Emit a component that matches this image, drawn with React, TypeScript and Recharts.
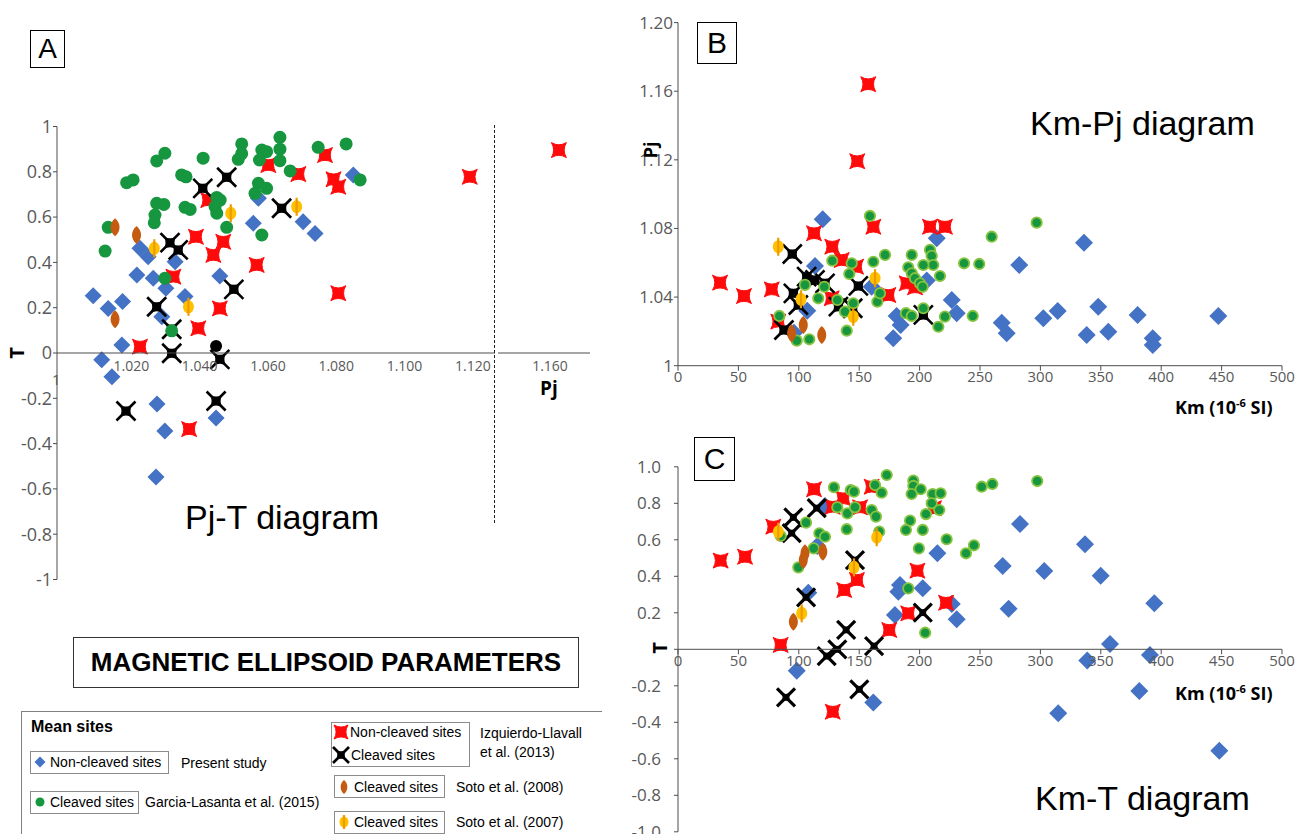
import React from 'react';
import { ScatterChart, Scatter, XAxis, YAxis } from 'recharts';

// ---- Pj-T diagram (A): [Pj, T]
const aBlue = [
  [1.0088, 0.253], [1.0132, 0.197], [1.0174, 0.227], [1.0172, 0.035], [1.0113, -0.03], [1.0143, -0.105],
  [1.0216, 0.344], [1.0225, 0.462], [1.0249, 0.425], [1.0264, 0.33], [1.0301, 0.286], [1.0289, 0.16],
  [1.0328, 0.403], [1.0357, 0.249], [1.0459, 0.34], [1.0557, 0.573], [1.0572, 0.683], [1.0703, 0.58],
  [1.0738, 0.528], [1.085, 0.786], [1.0275, -0.225], [1.0298, -0.344], [1.0272, -0.547], [1.0448, -0.287],
];
const aGreen = [
  [1.0123, 0.45], [1.0132, 0.555], [1.0186, 0.752], [1.0205, 0.764], [1.0274, 0.848], [1.0298, 0.882],
  [1.041, 0.86], [1.0347, 0.786], [1.036, 0.778], [1.0274, 0.661], [1.0295, 0.656], [1.0269, 0.609],
  [1.0267, 0.575], [1.0357, 0.643], [1.0372, 0.634], [1.0298, 0.33], [1.0318, 0.098], [1.045, 0.687],
  [1.046, 0.675], [1.0445, 0.646], [1.045, 0.617], [1.0479, 0.555], [1.0523, 0.923], [1.0523, 0.88],
  [1.0513, 0.855], [1.0582, 0.896], [1.0596, 0.889], [1.0575, 0.852], [1.0635, 0.952], [1.0635, 0.9],
  [1.0635, 0.849], [1.0665, 0.804], [1.0572, 0.749], [1.0596, 0.727], [1.0562, 0.705], [1.0582, 0.521],
  [1.0747, 0.908], [1.0829, 0.923], [1.087, 0.764],
];
const aRed = [
  [1.0225, 0.028], [1.0323, 0.337], [1.0389, 0.513], [1.0425, 0.675], [1.0396, 0.109], [1.044, 0.433],
  [1.0469, 0.491], [1.0459, 0.197], [1.0567, 0.389], [1.0601, 0.83], [1.0689, 0.79], [1.0767, 0.874],
  [1.0792, 0.767], [1.0806, 0.734], [1.0806, 0.264], [1.1191, 0.778], [1.0369, -0.336],
];
const aRedFar = [[1.1626, 0.896]];
const aBlack = [
  [1.0274, 0.204], [1.0318, 0.105], [1.0318, -0.001], [1.0313, 0.487], [1.0337, 0.455], [1.0409, 0.727],
  [1.0479, 0.776], [1.05, 0.281], [1.0459, -0.028], [1.064, 0.639], [1.0184, -0.256], [1.0448, -0.212],
];
const aBlackDot = [[1.0448, 0.031]];
const aBrown = [[1.0152, 0.555], [1.0215, 0.521], [1.0152, 0.149]];
const aYellow = [[1.0267, 0.462], [1.0367, 0.204], [1.0491, 0.617], [1.0684, 0.646]];

// ---- Km-Pj diagram (B): [Km, Pj]
const bBlue = [
  [119.8, 1.0854], [113.4, 1.0581], [107, 1.0321], [96, 1.0192], [160.3, 1.046], [214.2, 1.0743],
  [205.9, 1.0496], [181, 1.029], [184.3, 1.0237], [178.2, 1.016], [226.6, 1.0383], [230.7, 1.0306],
  [268, 1.0251], [272.1, 1.0189], [282.5, 1.0587], [302.4, 1.0276], [314.3, 1.0319], [336.1, 1.0717],
  [338.3, 1.0179], [347.9, 1.0344], [356.2, 1.0198], [380.5, 1.0296], [393, 1.016], [393, 1.0121],
  [447.3, 1.029],
];
const bGreen = [
  [158.9, 1.0873], [171.4, 1.0646], [193.5, 1.0646], [208.6, 1.0675], [210, 1.064], [211.3, 1.0587],
  [203.1, 1.0587], [190.6, 1.0574], [193.5, 1.0539], [196.2, 1.051], [200.3, 1.048], [202.5, 1.046],
  [216.9, 1.0523], [236.8, 1.0597], [127.7, 1.0612], [143.8, 1.0597], [141.8, 1.0535], [161.7, 1.0606],
  [105.1, 1.0471], [121.1, 1.046], [116.1, 1.0393], [131.9, 1.0383], [138.2, 1.0315], [145.1, 1.0364],
  [165, 1.0373], [167.2, 1.0422], [83.9, 1.029], [98.3, 1.0146], [108.7, 1.0154], [139.7, 1.0204],
  [188.7, 1.0306], [193.5, 1.029], [203.1, 1.0335], [221, 1.0286], [215.5, 1.0227], [249.4, 1.0593],
  [244, 1.029], [259.7, 1.0752], [296.9, 1.0834],
];
const bRed = [
  [34.8, 1.0484], [54.6, 1.0406], [77.6, 1.0445], [157.5, 1.1641], [148.4, 1.1192], [112.6, 1.0772],
  [161.7, 1.081], [208.6, 1.081], [221, 1.081], [127.7, 1.0694], [135.5, 1.0616], [147.4, 1.0577],
  [174.1, 1.0412], [189.3, 1.048], [196.2, 1.0457], [127.2, 1.0393], [83, 1.0257],
];
const bBlack = [
  [94.6, 1.0651], [106.5, 1.0519], [113.4, 1.05], [121.7, 1.048], [95.5, 1.0422], [99.6, 1.0354],
  [149.3, 1.0465], [132.8, 1.0344], [144.6, 1.0335], [203.1, 1.0296], [87.7, 1.0208],
];
const bBrown = [[103.7, 1.0237], [119, 1.0179], [94, 1.0189]];
const bYellow = [[83, 1.0694], [101.8, 1.0387], [163.1, 1.051], [145.1, 1.0286]];

// ---- Km-T diagram (C): [Km, T]
const cBlue = [
  [121.7, 0.785], [115.3, 0.566], [107.9, 0.31], [98.3, -0.117], [161.7, -0.292], [183.8, 0.352],
  [182.4, 0.316], [179.6, 0.188], [202.6, 0.334], [214.7, 0.526], [226.6, 0.248], [230.7, 0.164],
  [268.8, 0.456], [273.7, 0.222], [283.1, 0.687], [303.2, 0.429], [314.8, -0.351], [336.9, 0.575],
  [338.8, -0.062], [349.9, 0.403], [357.6, 0.029], [381.9, -0.228], [390.7, -0.031], [394.3, 0.252],
  [448.1, -0.556],
];
const cGreen = [
  [172.8, 0.955], [194.8, 0.924], [194.8, 0.895], [200.9, 0.877], [193.4, 0.851], [210.8, 0.851],
  [217.4, 0.855], [210, 0.8], [216.3, 0.763], [205.3, 0.741], [192.1, 0.705], [188.7, 0.654],
  [202.6, 0.654], [222.4, 0.603], [199.4, 0.553], [238.4, 0.526], [204.6, 0.091], [129.1, 0.888],
  [143, 0.873], [145.7, 0.864], [163.1, 0.9], [168.6, 0.858], [131.9, 0.778], [140.2, 0.745],
  [146.5, 0.778], [160.3, 0.763], [163.9, 0.727], [106, 0.694], [85, 0.621], [117, 0.636],
  [121.7, 0.617], [139.7, 0.658], [166.6, 0.645], [112.3, 0.553], [99.6, 0.449], [190.6, 0.334],
  [251.4, 0.891], [260.2, 0.906], [297.4, 0.922], [245, 0.57],
];
const cRed = [
  [112.6, 0.877], [160.3, 0.891], [136.8, 0.827], [128.1, 0.781], [150.7, 0.778], [211.9, 0.773],
  [78.9, 0.672], [55.5, 0.507], [35.3, 0.486], [198.2, 0.431], [148.1, 0.38], [137.6, 0.325],
  [221.9, 0.255], [190.6, 0.197], [174.9, 0.106], [85, 0.024], [128.1, -0.342],
];
const cBlack = [
  [95.5, 0.723], [94.1, 0.636], [114.8, 0.773], [146.5, 0.489], [106, 0.285], [202.6, 0.201],
  [139.2, 0.106], [162.3, 0.018], [131.9, 0], [123.1, -0.037], [89.4, -0.263], [150.1, -0.219],
];
const cBrown = [[105.1, 0.526], [119.9, 0.535], [103.7, 0.489], [95.5, 0.151]];
const cYellow = [[83, 0.644], [164.5, 0.614], [145.7, 0.449], [102.4, 0.197]];

// ticks
const pjTicksA = [1.02, 1.04, 1.06, 1.08, 1.1, 1.12];
const pjTicksFar = [1.16];
const tTicks = [-1, -0.8, -0.6, -0.4, -0.2, 0, 0.2, 0.4, 0.6, 0.8, 1];
const kmTicks = [0, 50, 100, 150, 200, 250, 300, 350, 400, 450, 500];
const pjTicksB = [1, 1.04, 1.08, 1.12, 1.16, 1.2];

const BLUE = '#4472c4';
const GREEN = '#16963f';
const GREEN_RIM = '#86c440';
const RED = '#ff0a0a';
const BROWN = '#c55a11';
const YELLOW = '#ffc000';
const YLINE = '#ee9a00';
const TICK = '#595959';
const AXIS = '#4d4d4d';
const SANS = '"Liberation Sans", Arial, sans-serif';
const UI = '"Open Sans", "Noto Sans", sans-serif';

const pts = (a: number[][]) => a.map(([x, y]) => ({ x, y }));

const diamondD = (cx: number, cy: number, s: number) =>
  `M${cx},${cy - s}L${cx + s},${cy}L${cx},${cy + s}L${cx - s},${cy}Z`;
// square with concave sides: points on the diagonals
const starD = (cx: number, cy: number, s: number, f = 0.4) => {
  const k = f * s;
  return `M${cx - s},${cy - s}Q${cx},${cy - k} ${cx + s},${cy - s}Q${cx + k},${cy} ${cx + s},${cy + s}` +
    `Q${cx},${cy + k} ${cx - s},${cy + s}Q${cx - k},${cy} ${cx - s},${cy - s}Z`;
};
const lensD = (cx: number, cy: number, h: number, w: number) =>
  `M${cx},${cy - h}C${cx + w},${cy - h * 0.45} ${cx + w},${cy + h * 0.45} ${cx},${cy + h}` +
  `C${cx - w},${cy + h * 0.45} ${cx - w},${cy - h * 0.45} ${cx},${cy - h}Z`;

const Diamond = ({ cx, cy, s = 8.5 }: any) => <path d={diamondD(cx, cy, s)} fill={BLUE} />;
const Dot = ({ cx, cy, r = 6.5, rim = false }: any) =>
  rim ? <circle cx={cx} cy={cy} r={r} fill={GREEN} stroke={GREEN_RIM} strokeWidth={1.8} />
      : <circle cx={cx} cy={cy} r={r} fill={GREEN} />;
const RedStar = ({ cx, cy, s = 7.5 }: any) => (
  <path d={starD(cx, cy, s)} fill={RED} stroke={RED} strokeWidth={1} strokeLinejoin="round" />
);
const BlackCross = ({ cx, cy, s = 6, arm = 9.5, w = 2.6 }: any) => (
  <g>
    <line x1={cx - arm} y1={cy - arm} x2={cx + arm} y2={cy + arm} stroke="#000" strokeWidth={w} />
    <line x1={cx - arm} y1={cy + arm} x2={cx + arm} y2={cy - arm} stroke="#000" strokeWidth={w} />
    <path d={starD(cx, cy, s, 0.5)} fill="#000" />
  </g>
);
const BlackDot = ({ cx, cy }: any) => <circle cx={cx} cy={cy} r={6} fill="#000" />;
const Brown = ({ cx, cy, h = 9, w = 6 }: any) => <path d={lensD(cx, cy, h, w)} fill={BROWN} />;
const Yellow = ({ cx, cy, r = 5.5, l = 9 }: any) => (
  <g>
    <ellipse cx={cx} cy={cy} rx={r} ry={r + 1} fill={YELLOW} />
    <line x1={cx} y1={cy - l} x2={cx} y2={cy + l} stroke={YLINE} strokeWidth={2.2} />
  </g>
);

const Abs = ({ x, y, w, h, children, style }: any) => (
  <div style={{ position: 'absolute', left: x, top: y, width: w, height: h, ...style }}>{children}</div>
);

const Txt = ({ x, y, size, bold, family = SANS, color = '#000', children, rotate, bg }: any) => (
  <div
    style={{
      position: 'absolute', left: x, top: y - size * 0.6, fontSize: size, lineHeight: `${size * 1.2}px`,
      fontWeight: bold ? 700 : 400, fontFamily: family, color, whiteSpace: 'nowrap',
      background: bg, padding: bg ? '0 2px' : undefined,
      transform: rotate ? 'translate(-50%, 0) rotate(-90deg)' : undefined,
    }}
  >
    {children}
  </div>
);

const Box = ({ x, y, w, h, children, size = 30, bw = 1.5, color = '#000' }: any) => (
  <div
    style={{
      position: 'absolute', left: x, top: y, width: w, height: h, border: `${bw}px solid ${color}`,
      boxSizing: 'border-box', display: 'flex', alignItems: 'center', justifyContent: 'center',
      fontFamily: SANS, fontSize: size,
    }}
  >
    {children}
  </div>
);

const series = (blue: any, green: any, red: any, black: any, brown: any, yellow: any, rim: boolean, big = false) => [
  <Scatter key="bl" data={pts(blue)} isAnimationActive={false} shape={(p: any) => <Diamond cx={p.cx} cy={p.cy} s={rim ? 9 : 8.5} />} />,
  <Scatter key="rd" data={pts(red)} isAnimationActive={false} shape={(p: any) => <RedStar cx={p.cx} cy={p.cy} />} />,
  <Scatter key="bk" data={pts(black)} isAnimationActive={false}
    shape={(p: any) => big
      ? <BlackCross cx={p.cx} cy={p.cy} s={4.5} arm={9} w={3.2} />
      : <BlackCross cx={p.cx} cy={p.cy} />} />,
  <Scatter key="gr" data={pts(green)} isAnimationActive={false}
    shape={(p: any) => <Dot cx={p.cx} cy={p.cy} r={rim ? 5.2 : 6.5} rim={rim} />} />,
  <Scatter key="br" data={pts(brown)} isAnimationActive={false} shape={(p: any) => <Brown cx={p.cx} cy={p.cy} />} />,
  <Scatter key="ye" data={pts(yellow)} isAnimationActive={false} shape={(p: any) => <Yellow cx={p.cx} cy={p.cy} />} />,
];

const fmtT = (v: number) => String(Math.round(v * 10) / 10);
const fmtT1 = (v: number) => (v === 0 ? '0' : v.toFixed(1));
const fmtPj = (v: number) => (v === 1 ? '1' : v.toFixed(2));

const A_DOM: [number, number] = [0.9982, 1.1265];
const FAR_DOM: [number, number] = [1.1448, 1.1717];

export default function App() {
  return (
    <div style={{ position: 'absolute', left: 0, top: 0, width: 1299, height: 834, background: '#fff', overflow: 'hidden' }}>
      {/* Panel A main */}
      <Abs x={0} y={0}>
        <ScatterChart width={495} height={590} margin={{ top: 126.5, right: 0, bottom: 10.5, left: 0 }}>
          <XAxis type="number" dataKey="x" domain={A_DOM} allowDataOverflow hide />
          <YAxis type="number" dataKey="y" domain={[-1, 1]} allowDataOverflow ticks={tTicks} interval={0}
            width={57} tickSize={4} tickMargin={1} stroke={AXIS} tickFormatter={fmtT}
            tick={{ fill: TICK, fontSize: 18, fontFamily: UI }} />
          {series(aBlue, aGreen, aRed, aBlack, aBrown, aYellow, false)}
          <Scatter data={pts(aBlackDot)} isAnimationActive={false} shape={(p: any) => <BlackDot cx={p.cx} cy={p.cy} />} />
        </ScatterChart>
      </Abs>
      <Abs x={0} y={0}>
        <ScatterChart width={495} height={400} margin={{ top: 0, right: 0, bottom: 0, left: 57 }}>
          <XAxis type="number" dataKey="x" domain={A_DOM} allowDataOverflow ticks={pjTicksA} interval={0}
            height={47} tickSize={0} tickMargin={8} stroke={AXIS} tickFormatter={(v: number) => v.toFixed(3)}
            tick={{ fill: TICK, fontSize: 14, fontFamily: UI }} />
          <YAxis type="number" dataKey="y" domain={[0, 1]} hide />
          <Scatter data={[]} isAnimationActive={false} />
        </ScatterChart>
      </Abs>
      {/* Panel A beyond the break */}
      <Abs x={498} y={0}>
        <ScatterChart width={92} height={590} margin={{ top: 126.5, right: 0, bottom: 10.5, left: 0 }}>
          <XAxis type="number" dataKey="x" domain={FAR_DOM} allowDataOverflow hide />
          <YAxis type="number" dataKey="y" domain={[-1, 1]} allowDataOverflow hide />
          <Scatter data={pts(aRedFar)} isAnimationActive={false} shape={(p: any) => <RedStar cx={p.cx} cy={p.cy} />} />
        </ScatterChart>
      </Abs>
      <Abs x={498} y={0}>
        <ScatterChart width={92} height={400} margin={{ top: 0, right: 0, bottom: 0, left: 0 }}>
          <XAxis type="number" dataKey="x" domain={FAR_DOM} allowDataOverflow ticks={pjTicksFar} interval={0}
            height={47} tickSize={0} tickMargin={8} stroke={AXIS} tickFormatter={(v: number) => v.toFixed(3)}
            tick={{ fill: TICK, fontSize: 14, fontFamily: UI }} />
          <YAxis type="number" dataKey="y" domain={[0, 1]} hide />
          <Scatter data={[]} isAnimationActive={false} />
        </ScatterChart>
      </Abs>
      <Abs x={494} y={125} w={0} h={398} style={{ borderLeft: '1.5px dashed #222' }} />
      <Txt x={52} y={379} size={15} family={UI} color={TICK}>1</Txt>
      <Txt x={540} y={388} size={19} bold family={UI}>Pj</Txt>
      <Txt x={17} y={353} size={20} bold family={UI} rotate>T</Txt>
      <Box x={30} y={30} w={35} h={38} size={28}>A</Box>
      <Txt x={185} y={517} size={34}>Pj-T diagram</Txt>

      {/* Panel B */}
      <Abs x={600} y={0}>
        <ScatterChart width={702} height={400} margin={{ top: 22.6, right: 20, bottom: 4.3, left: 0 }}>
          <XAxis type="number" dataKey="x" domain={[0, 500]} allowDataOverflow ticks={kmTicks} interval={0}
            height={30} tickSize={5} tickMargin={1} stroke={AXIS}
            tick={{ fill: TICK, fontSize: 15, fontFamily: UI }} />
          <YAxis type="number" dataKey="y" domain={[1, 1.2]} allowDataOverflow ticks={pjTicksB} interval={0}
            width={78} tickSize={4} tickMargin={1} stroke={AXIS} tickFormatter={fmtPj}
            tick={{ fill: TICK, fontSize: 17, fontFamily: UI }} />
          {series(bBlue, bGreen, bRed, bBlack, bBrown, bYellow, true)}
        </ScatterChart>
      </Abs>
      <Box x={697} y={22} w={40} h={42} size={30}>B</Box>
      <Txt x={1030} y={123} size={34}>Km-Pj diagram</Txt>
      <Txt x={651} y={150} size={18} bold family={UI} rotate>Pj</Txt>
      <Txt x={1175} y={403} size={18} bold family={UI}>Km (10<sup style={{ fontSize: 11 }}>-6</sup> SI)</Txt>

      {/* Panel C */}
      <Abs x={600} y={440}>
        <ScatterChart width={702} height={394} margin={{ top: 26.8, right: 20, bottom: 2.2, left: 0 }}>
          <XAxis type="number" dataKey="x" domain={[0, 500]} allowDataOverflow hide />
          <YAxis type="number" dataKey="y" domain={[-1, 1]} allowDataOverflow ticks={tTicks} interval={0}
            width={78} tickSize={4} tickMargin={13} stroke={AXIS} tickFormatter={fmtT1}
            tick={{ fill: TICK, fontSize: 17, fontFamily: UI }} />
          {series(cBlue, cGreen, cRed, cBlack, cBrown, cYellow, true, true)}
        </ScatterChart>
      </Abs>
      <Abs x={600} y={440}>
        <ScatterChart width={702} height={249.3} margin={{ top: 0, right: 20, bottom: 0, left: 78 }}>
          <XAxis type="number" dataKey="x" domain={[0, 500]} allowDataOverflow ticks={kmTicks} interval={0}
            height={40} tickSize={5} tickMargin={1} stroke={AXIS}
            tick={{ fill: TICK, fontSize: 15, fontFamily: UI }} />
          <YAxis type="number" dataKey="y" domain={[0, 1]} hide />
          <Scatter data={[]} isAnimationActive={false} />
        </ScatterChart>
      </Abs>
      <Box x={694} y={437} w={41} h={44} size={30}>C</Box>
      <Txt x={1035} y={798} size={34}>Km-T diagram</Txt>
      <Txt x={660} y={648} size={20} bold family={UI} rotate bg="#fff">T</Txt>
      <Txt x={1175} y={689} size={18} bold family={UI}>Km (10<sup style={{ fontSize: 11 }}>-6</sup> SI)</Txt>

      {/* Title box */}
      <Box x={73} y={637} w={506} h={51} size={26} bw={1.5} color="#333">
        <span style={{ fontWeight: 700 }}>MAGNETIC ELLIPSOID PARAMETERS</span>
      </Box>

      {/* Legend */}
      <Abs x={21} y={711} w={580} h={200} style={{ borderTop: '1px solid #808080', borderLeft: '1px solid #808080' }} />
      <Txt x={31} y={727} size={16} bold>Mean sites</Txt>
      <Abs x={30} y={751} w={139} h={23} style={{ border: '1px solid #8c8c8c', boxSizing: 'border-box' }} />
      <svg style={{ position: 'absolute', left: 32, top: 754 }} width={16} height={16}><Diamond cx={8} cy={8} s={5.5} /></svg>
      <Txt x={50} y={762} size={14}>Non-cleaved sites</Txt>
      <Txt x={181} y={763} size={14}>Present study</Txt>
      <Abs x={30} y={791} w={109} h={23} style={{ border: '1px solid #8c8c8c', boxSizing: 'border-box' }} />
      <svg style={{ position: 'absolute', left: 32, top: 794 }} width={16} height={16}><Dot cx={8} cy={8} r={4.5} /></svg>
      <Txt x={50} y={802} size={14}>Cleaved sites</Txt>
      <Txt x={145} y={802} size={14}>Garcia-Lasanta et al. (2015)</Txt>

      <Abs x={331} y={722} w={139} h={45} style={{ border: '1px solid #8c8c8c', boxSizing: 'border-box' }} />
      <svg style={{ position: 'absolute', left: 332, top: 723 }} width={18} height={18}><RedStar cx={9} cy={9} s={7} /></svg>
      <Txt x={350} y={732} size={14}>Non-cleaved sites</Txt>
      <svg style={{ position: 'absolute', left: 332, top: 746 }} width={18} height={18}><BlackCross cx={9} cy={9} s={5} arm={8} /></svg>
      <Txt x={351} y={755} size={14}>Cleaved sites</Txt>
      <Txt x={480} y={733} size={14}>Izquierdo-Llavall</Txt>
      <Txt x={480} y={752} size={14}>et al. (2013)</Txt>

      <Abs x={334} y={775} w={111} h={23} style={{ border: '1px solid #8c8c8c', boxSizing: 'border-box' }} />
      <svg style={{ position: 'absolute', left: 336, top: 778 }} width={16} height={18}><Brown cx={8} cy={9} h={7} w={4.5} /></svg>
      <Txt x={354} y={787} size={14}>Cleaved sites</Txt>
      <Txt x={456} y={787} size={14}>Soto et al. (2008)</Txt>

      <Abs x={334} y={811} w={111} h={23} style={{ border: '1px solid #8c8c8c', boxSizing: 'border-box' }} />
      <svg style={{ position: 'absolute', left: 336, top: 813 }} width={16} height={18}><Yellow cx={8} cy={9} r={4.5} l={7} /></svg>
      <Txt x={354} y={822} size={14}>Cleaved sites</Txt>
      <Txt x={456} y={822} size={14}>Soto et al. (2007)</Txt>
    </div>
  );
}
